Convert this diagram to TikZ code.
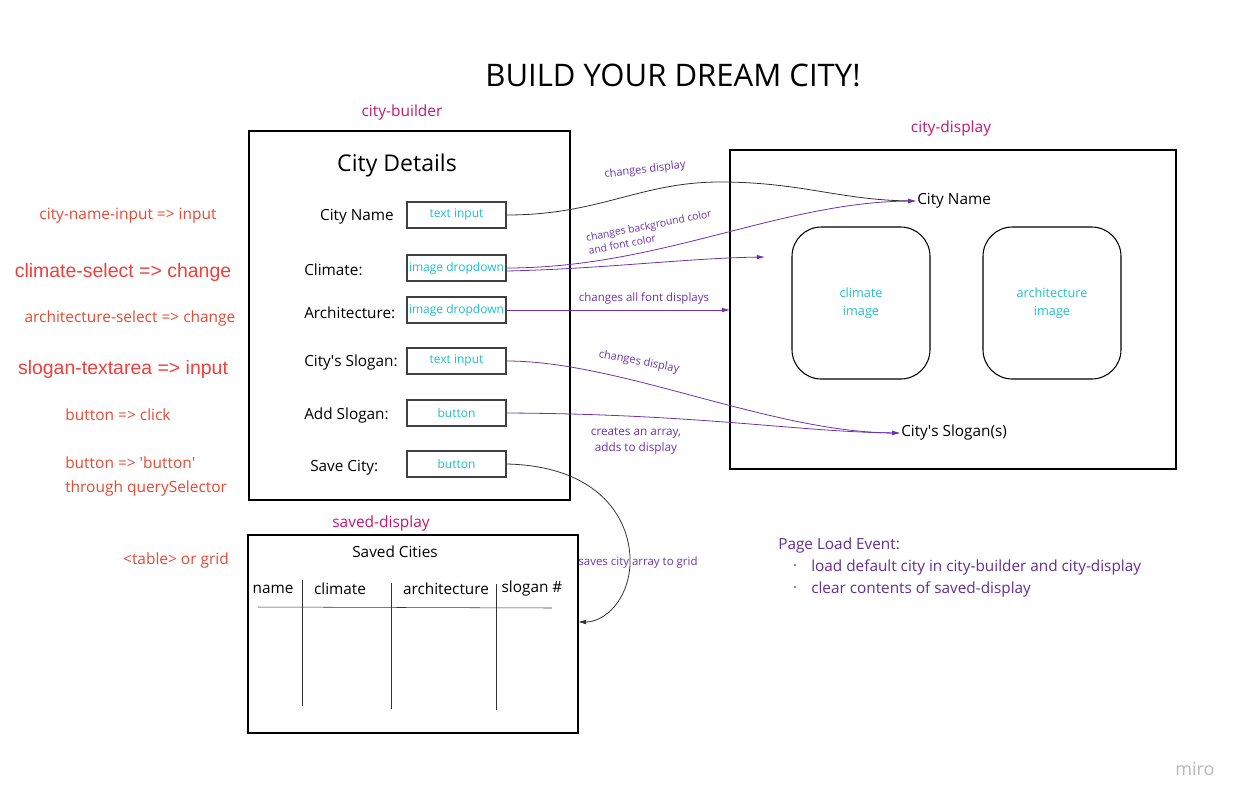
\documentclass[tikz,border=0pt]{standalone}
\usepackage{fontspec}
\setmainfont{Open Sans}
\newfontfamily\arialfont{Liberation Sans}
\usetikzlibrary{arrows.meta}
\definecolor{cbMagenta}{RGB}{199,21,111}
\definecolor{cbRed}{RGB}{231,72,52}
\definecolor{cbRedB}{RGB}{240,62,58}
\definecolor{cbCyan}{RGB}{30,190,205}
\definecolor{cbPurple}{RGB}{108,50,178}
\definecolor{cbText}{RGB}{100,44,148}
\begin{document}
\begin{tikzpicture}[x=0.75pt,y=0.75pt,yscale=-1,xscale=1,
  tag/.style={text=cbMagenta,inner sep=0.75pt,font=\fontsize{11.6}{14}\selectfont},
  event/.style={text=cbRed,inner sep=0.75pt,font=\fontsize{11.6}{18}\selectfont},
  bigevent/.style={text=cbRedB,inner sep=0.75pt,font=\arialfont\fontsize{14.6}{17}\selectfont},
  field/.style={inner sep=0.75pt,font=\fontsize{11.5}{14}\selectfont},
  inbox/.style={draw=black!75,line width=1pt,minimum width=74.25pt,minimum height=19.5pt,inner sep=0pt,text=cbCyan,font=\fontsize{9}{11}\selectfont},
  imgbox/.style={draw,line width=0.8pt,rounded corners=22pt,minimum width=103.5pt,minimum height=114pt,align=center,text=cbCyan,font=\fontsize{9.5}{13.5}\selectfont},
  link/.style={draw=cbPurple,line width=0.6pt,-{Latex[length=6pt,width=3.5pt]}},
  blink/.style={draw=black!80,line width=0.6pt,-{Latex[length=6pt,width=3.5pt]}},
  note/.style={text=cbPurple,inner sep=0.75pt,align=center,font=\fontsize{8.6}{10.5}\selectfont}
  ]
\useasboundingbox (0,0) rectangle (1242,804);

% Title
\draw (673,75) node [inner sep=0.75pt,font=\fontsize{23.3}{27}\selectfont] (title) {BUILD YOUR DREAM CITY!};

%Shape: city-builder box
\draw (402,112) node [tag] (buildertag) {city-builder};
\draw [line width=0.9pt] (249,131) rectangle (570,500);
\draw (397,166) node [inner sep=0.75pt,font=\fontsize{17.3}{20}\selectfont] (details) {City Details};

% Field labels
\draw (395,217) node [field,anchor=east] (lname) {City Name};
\draw (303,270) node [field,anchor=west] (lclimate) {Climate:};
\draw (303,313) node [field,anchor=west] (larch) {Architecture:};
\draw (303,363) node [field,anchor=west] (lslogan) {City\textquotesingle s Slogan:};
\draw (303,416) node [field,anchor=west] (ladd) {Add Slogan:};
\draw (309,468) node [field,anchor=west] (lsave) {Save City:};

% Input boxes
\draw (456.5,215) node [inbox] (inname) {text input};
\draw (456.5,268) node [inbox] (inclimate) {image dropdown};
\draw (456.5,310) node [inbox] (inarch) {image dropdown};
\draw (456.5,361) node [inbox] (inslogan) {text input};
\draw (456.5,413) node [inbox] (inadd) {button};
\draw (456.5,464) node [inbox] (insave) {button};

% Event labels
\draw (128,216) node [event] (ename) {city-name-input => input};
\draw (123,272) node [bigevent] (eclimate) {climate-select => change};
\draw (130,318) node [event] (earch) {architecture-select => change};
\draw (123,369) node [bigevent] (eslogan) {slogan-textarea => input};
\draw (118,415) node [event] (eadd) {button => click};
\draw (64,476) node [event,anchor=west,align=left] (esave) {button => \textquotesingle button\textquotesingle\\through querySelector};
\draw (176,560) node [event] (etable) {<table> or grid};

%Shape: city-display box
\draw (951,128) node [tag] (displaytag) {city-display};
\draw [line width=0.9pt] (730,150) rectangle (1176,469);
\coordinate (dispwest) at (730,310);
\coordinate (dispfree) at (765,257);
\draw (916,201) node [field,anchor=west] (dname) {City Name};
\draw (900,433) node [field,anchor=west] (dslogan) {City\textquotesingle s Slogan(s)};
\draw (861,303) node [imgbox] (climg) {climate\\image};
\draw (1052,303) node [imgbox] (archimg) {architecture\\image};

%Shape: saved-display box
\draw (381,523) node [tag] (savedtag) {saved-display};
\draw [line width=0.9pt] (248,535) rectangle (578,733);
\coordinate (savedeast) at (578,622);
\draw (395,552) node [field] (savedtitle) {Saved Cities};
\draw (273,589) node [field] (hname) {name};
\draw (340,589) node [field] (hclimate) {climate};
\draw (446,589) node [field] (harch) {architecture};
\draw (532,589) node [field] (hslogan) {slogan \#};
\draw [black!80] (258,607) -- (552,608) ;
\draw [black!80] (302,580) -- (302,706) ;
\draw [black!80] (391,583) -- (391,709) ;
\draw [black!80] (496,584) -- (496,710) ;

% Connectors
\draw [blink] (inname.east) .. controls (600,215) and (640,182) .. (720,182) .. controls (800,182) and (840,200) .. (dname.west) ;
\draw [link] (inclimate.east) .. controls (660,268) and (780,202) .. (dname.west) ;
\draw [link] (inclimate.east) ++(0,3) .. controls (600,269) and (690,258) .. (dispfree) ;
\draw [link] (inarch.east) -- (dispwest) ;
\draw [link] (inslogan.east) .. controls (620,361) and (770,432) .. (dslogan.west) ;
\draw [link] (inadd.east) .. controls (700,414) and (800,432) .. (dslogan.west) ;
\draw [blink] (insave.east) .. controls (600,466) and (632,520) .. (630,565) .. controls (628,600) and (605,622) .. (savedeast) ;

% Connector labels
\draw (645,170) node [note,rotate=7,font=\fontsize{8.3}{10}\selectfont] (nname) {changes display};
\draw (650,232) node [note,rotate=11,align=left,font=\fontsize{7.8}{10}\selectfont] (nclimate) {changes background color\\and font color};
\draw (644,298) node [note] (narch) {changes all font displays};
\draw (639,362) node [note,rotate=-11,font=\fontsize{8.3}{10}\selectfont] (nslogan) {changes display};
\draw (636,441) node [note,font=\fontsize{8.8}{12}\selectfont] (nadd) {creates an array,\\adds to display};
\draw (638,563) node [note] (nsave) {saves city array to grid};

% Page load
\draw (777,546) node [anchor=west,inner sep=0.75pt,text=cbText,font=\fontsize{11.5}{14}\selectfont] (load) {Page Load Event:};
\draw (795,567) node [text=cbText,font=\fontsize{6}{8}\selectfont] (bulla) {\textbullet};
\draw (810,567) node [anchor=west,inner sep=0.75pt,text=cbText,font=\fontsize{11.5}{14}\selectfont] (loada) {load default city in city-builder and city-display};
\draw (795,589) node [text=cbText,font=\fontsize{6}{8}\selectfont] (bullb) {\textbullet};
\draw (810,589) node [anchor=west,inner sep=0.75pt,text=cbText,font=\fontsize{11.5}{14}\selectfont] (loadb) {clear contents of saved-display};

\draw (1195,769) node [text=black!28,font=\fontsize{13.5}{15}\selectfont] (miro) {miro};

\end{tikzpicture}
\end{document}
